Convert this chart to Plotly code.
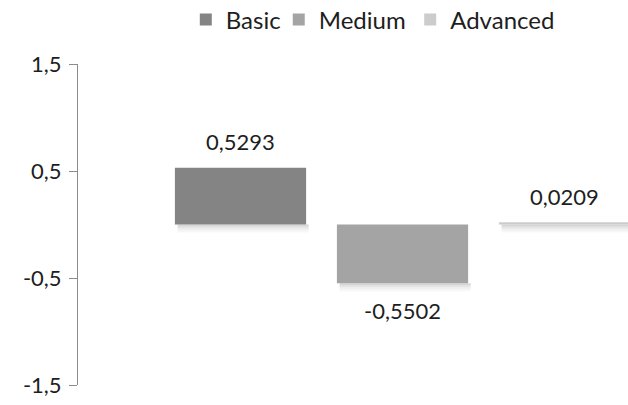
import plotly.graph_objects as go

# Series data
series = ["Basic", "Medium", "Advanced"]
values = [0.5293, -0.5502, 0.0209]
colors = ["#848484", "#a4a4a4", "#cccccc"]
y_ticks = [-1.5, -0.5, 0.5, 1.5]

FONT = "Lato"
TEXT = "#1e1e1e"
LEGENDS = ["legend", "legend2", "legend3"]
LEGEND_X = [0.196, 0.365, 0.604]  # left edge of each legend entry (paper fraction)

BARGAP = 0.25
GROUPGAP = 0.19


def fmt(v, digits):
    return f"{v:.{digits}f}".replace(".", ",")


fig = go.Figure()
for name, val, col, lg in zip(series, values, colors, LEGENDS):
    fig.add_trace(go.Bar(
        name=name, x=[""], y=[val],
        marker=dict(color=col, line=dict(width=0)),
        hoverinfo="skip", legend=lg,
    ))

slot = (1 - BARGAP) / len(series)
half_bar = slot * (1 - GROUPGAP) / 2

for i, val in enumerate(values):
    cx = (i - 1) * slot
    # soft drop shadow under the lower edge of each bar
    for k, alpha in enumerate([0.16, 0.10, 0.06, 0.03]):
        fig.add_shape(
            type="rect", xref="x", yref="y", layer="below",
            x0=cx - half_bar + 0.004, x1=cx + half_bar + 0.004,
            ysizemode="pixel", yanchor=min(val, 0),
            y0=-2 * k, y1=-2 * (k + 1),
            fillcolor=f"rgba(0,0,0,{alpha})", line=dict(width=0),
        )
    # value label
    fig.add_annotation(
        x=cx, y=val, xref="x", yref="y", showarrow=False,
        text=fmt(val, 4),
        font=dict(family=FONT, size=22, color=TEXT),
        yshift=26 if val >= 0 else -27,
        yanchor="middle",
    )

legend_style = dict(
    orientation="h", y=1.137, yanchor="middle", xanchor="left",
    font=dict(family=FONT, size=24, color=TEXT),
    itemclick=False, bgcolor="rgba(0,0,0,0)",
)

fig.update_layout(
    width=628, height=405,
    margin=dict(l=78, r=0, t=64, b=20, autoexpand=False),
    paper_bgcolor="white", plot_bgcolor="white",
    barmode="group", bargap=BARGAP, bargroupgap=GROUPGAP,
    separators=", ",
    showlegend=True,
    legend=dict(x=LEGEND_X[0], **legend_style),
    legend2=dict(x=LEGEND_X[1], **legend_style),
    legend3=dict(x=LEGEND_X[2], **legend_style),
    xaxis=dict(type="category", range=[-0.5008, 0.348], visible=False, fixedrange=True),
    yaxis=dict(
        range=[-1.5, 1.5], tickvals=y_ticks,
        ticktext=[fmt(t, 1) for t in y_ticks],
        showgrid=False, zeroline=False,
        showline=True, linecolor="#8c8c8c", linewidth=1,
        ticks="outside", ticklen=8, tickcolor="#8c8c8c", ticklabelstandoff=3,
        tickfont=dict(family=FONT, size=22, color=TEXT),
    ),
    font=dict(family=FONT),
)

fig.write_html("out.html")
